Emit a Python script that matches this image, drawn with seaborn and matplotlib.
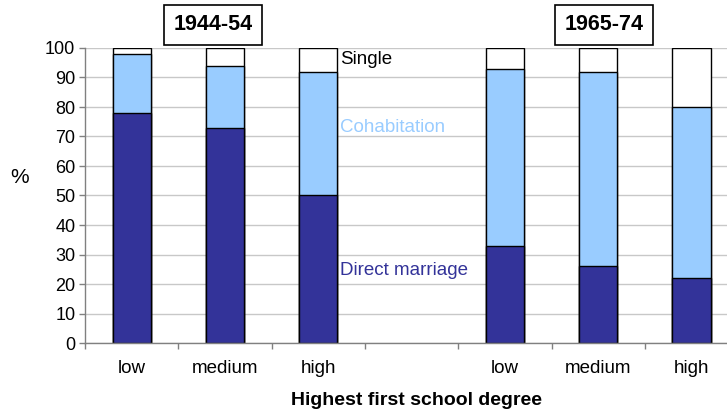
import matplotlib
matplotlib.use("Agg")
import matplotlib.pyplot as plt
import seaborn as sns
import pandas as pd
from matplotlib.ticker import FixedLocator, MultipleLocator

# ---- data ----
categories = ["low", "medium", "high", " ", "low ", "medium ", "high "]
bar_categories = ["low", "medium", "high", "low ", "medium ", "high "]
direct_marriage = [78, 73, 50, 33, 26, 22]
cohabitation = [20, 21, 42, 60, 66, 58]
single = [2, 6, 8, 7, 8, 20]
tick_labels = ["low", "medium", "high", "", "low", "medium", "high"]
cohort_labels = ["1944-54", "1965-74"]

df = pd.DataFrame({
    "cat": bar_categories,
    "dm": direct_marriage,
    "cohab": cohabitation,
    "single": single,
})
df["dm_cohab"] = df["dm"] + df["cohab"]
df["total"] = df["dm_cohab"] + df["single"]

sns.set_theme(style="white")
plt.rcParams["font.family"] = ["Liberation Sans", "DejaVu Sans"]
plt.rcParams["text.color"] = "black"
plt.rcParams["axes.labelcolor"] = "black"

W, H = 727, 411
fig = plt.figure(figsize=(W / 100, H / 100), dpi=100)
left, right, top, bottom = 85, 727, 48, 343
ax = fig.add_axes([left / W, (H - bottom) / H, (right - left) / W, (bottom - top) / H])

navy = "#333399"
light = "#99CCFF"
common = dict(data=df, x="cat", order=categories, width=0.41, edgecolor="black",
              linewidth=1.0, saturation=1, errorbar=None, ax=ax)
sns.barplot(y="total", color="white", **common)
sns.barplot(y="dm_cohab", color=light, **common)
sns.barplot(y="dm", color=navy, **common)

slot_px = 93.3
ax.set_xlim(-0.5, -0.5 + (right - left) / slot_px)
ax.set_ylim(0, 100)
ax.yaxis.set_major_locator(MultipleLocator(10))
ax.grid(axis="y", color="#C8C8C8", linewidth=1.0)
ax.set_axisbelow(True)

for s in ["top", "right"]:
    ax.spines[s].set_visible(False)
for s in ["left", "bottom"]:
    ax.spines[s].set_color("#808080")
    ax.spines[s].set_linewidth(1.0)

ax.set_xticks(range(len(categories)))
ax.set_xticklabels(tick_labels, fontsize=13.5, color="black")
ax.tick_params(axis="x", which="major", length=0, pad=12, labelcolor="black")
ax.xaxis.set_minor_locator(FixedLocator([i - 0.5 for i in range(len(categories) + 1)]))
ax.tick_params(axis="x", which="minor", length=4, width=1, color="#808080", direction="out", bottom=True)
ax.tick_params(axis="y", length=4, width=1, color="#808080", direction="out", left=True,
               labelsize=13, labelcolor="black", pad=3)

ax.set_xlabel("Highest first school degree", fontsize=14, fontweight="bold", labelpad=6)
ax.xaxis.set_label_coords(0.517, -0.165)
ax.set_ylabel("%", fontsize=15, rotation=0, labelpad=0, va="center", ha="center")
ax.yaxis.set_label_coords(-0.102, 0.56)

# in-plot labels
ax.text(2.23, 96, "Single", fontsize=13.5, color="black", va="center", ha="left")
ax.text(2.23, 73, "Cohabitation", fontsize=13.5, color=light, va="center", ha="left")
ax.text(2.23, 24.5, "Direct marriage", fontsize=13.5, color=navy, va="center", ha="left")

# cohort boxes
bbox = dict(boxstyle="square,pad=0.45", facecolor="white", edgecolor="black", linewidth=1.2)
fig.text(213 / W, 1 - 25 / H, cohort_labels[0], fontsize=15.5, fontweight="bold",
         ha="center", va="center", bbox=bbox)
fig.text(604 / W, 1 - 25 / H, cohort_labels[1], fontsize=15.5, fontweight="bold",
         ha="center", va="center", bbox=bbox)

fig.savefig("out.png", dpi=100)
